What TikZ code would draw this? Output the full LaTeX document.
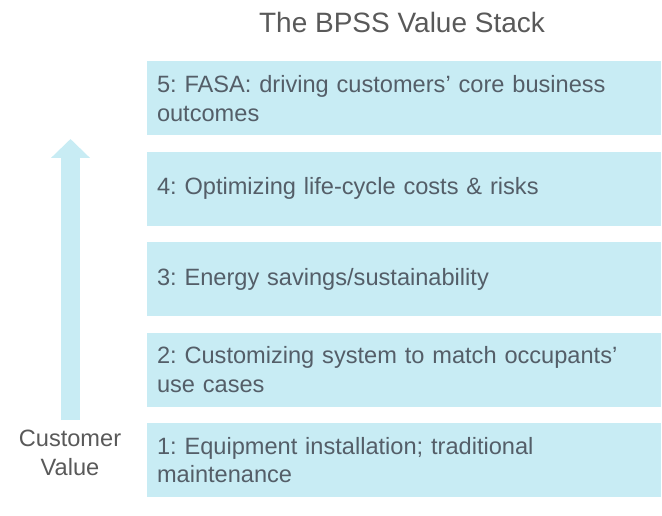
\documentclass[tikz,border=0pt]{standalone}
\usepackage{fontspec}
\setmainfont{Liberation Sans}
\usetikzlibrary{arrows.meta, positioning}
\definecolor{stackblue}{RGB}{200,236,244}
\definecolor{stacktext}{RGB}{84,94,104}
\definecolor{titlegray}{RGB}{89,89,89}
\frenchspacing

\begin{document}
\begin{tikzpicture}[x=1pt, y=-1pt, node distance=16pt,
    layer/.style={rectangle, fill=stackblue, text=stacktext, minimum width=514pt, minimum height=74pt, text width=494pt, inner xsep=10pt, inner ysep=0pt, align=left, font=\fontsize{23.6}{28.5}\selectfont},
    sidetext/.style={text=titlegray, align=center, font=\fontsize{23.6}{28.5}\selectfont},
    valuearrow/.style={stackblue, line width=19pt, -{Triangle[length=19pt, width=38pt]}}]
    \useasboundingbox (0,0) rectangle (662,516);

    \node [sidetext, font=\fontsize{28}{34}\selectfont] (title) at (402,22) {The BPSS Value Stack};

    % the stack, bottom up
    \node [layer] (install) at (404,460) {1: Equipment installation; traditional\\maintenance};
    \node [layer, above=of install] (custom) {2: Customizing system to match occupants'\\use cases};
    \node [layer, above=of custom] (energy) {3: Energy savings/sustainability};
    \node [layer, above=of energy] (lifecycle) {4: Optimizing life-cycle costs \& risks};
    \node [layer, above=of lifecycle] (fasa) {5: FASA: driving customers' core business\\outcomes};

    \coordinate (valbot) at (70.5,420);
    \coordinate (valtop) at (70.5,139);
    \draw [valuearrow] (valbot) -- (valtop);
    \node [sidetext] (value) at (70,453) {Customer\\Value};
\end{tikzpicture}
\end{document}
